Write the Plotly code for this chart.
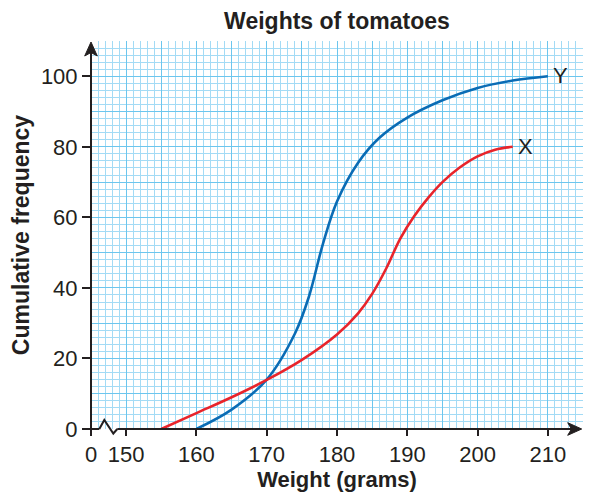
import plotly.graph_objects as go

# ---- data ----
y_weight = [160, 165, 170, 174, 176, 178, 180, 183, 186, 190, 195, 200, 205, 210]
y_cumfreq = [0, 5.5, 14, 27, 37.5, 52.5, 64.5, 75.5, 82.5, 88.3, 93.2, 96.7, 98.8, 100]

x_weight = [155, 160, 165, 170, 175, 180, 183, 185, 187, 189, 191, 193, 195, 197.5, 200, 202.5, 205]
x_cumfreq = [0, 4.5, 9, 13.9, 19.6, 26.8, 32.8, 38.3, 45.5, 54, 60.4, 65.6, 70, 74.2, 77.3, 79.2, 80]

x_tickvals = [145, 150, 160, 170, 180, 190, 200, 210]
x_ticktext = ["0", "150", "160", "170", "180", "190", "200", "210"]
y_tickvals = [0, 20, 40, 60, 80, 100]

X_RANGE = [145, 215]
Y_RANGE = [0, 110]

TXT = "#231f20"
FONT = "Liberation Sans, Arial, sans-serif"
BLUE = "#0a6cb5"
RED = "#e8242b"
MAJOR = "#6cc6ee"
MINOR = "#a3dbf5"
K = "#231f20"

# the page body adds an 8px offset; figure is sized so the plot lands where the reference has it
OFF = 8
W, H = 591 - OFF, 493 - OFF
ML, MR, MT, MB = 91 - OFF, 8, 41 - OFF, 64
PW, PH = W - ML - MR, H - MT - MB


def px(dx):  # pixel length -> paper fraction (x)
    return dx / PW


def py(dy):  # pixel length -> paper fraction (y)
    return dy / PH


fig = go.Figure()

# dummy trace on base (grid) axes
fig.add_trace(go.Scatter(x=[X_RANGE[0]], y=[Y_RANGE[0]], mode="markers", marker=dict(opacity=0),
                         showlegend=False, hoverinfo="skip"))

fig.add_trace(go.Scatter(x=y_weight, y=y_cumfreq, mode="lines", xaxis="x2", yaxis="y2",
                         line=dict(color=BLUE, width=2.6, shape="spline", smoothing=1.0),
                         showlegend=False, cliponaxis=False))
fig.add_trace(go.Scatter(x=x_weight, y=x_cumfreq, mode="lines", xaxis="x2", yaxis="y2",
                         line=dict(color=RED, width=2.6, shape="spline", smoothing=1.0),
                         showlegend=False, cliponaxis=False))

# axis lines, arrows and the axis-break zigzag (paper coordinates)
zx0, zx1, zx2, zx3 = px(8.3), px(13.3), px(22.3), px(26.3)
shapes = [
    dict(type="line", xref="paper", yref="paper", x0=0, y0=py(-1), x1=0, y1=1 - py(10),
         line=dict(color=K, width=2)),
    dict(type="path", xref="paper", yref="paper",
         path=f"M 0,{1 - py(1):.5f} L {px(6.3):.5f},{1 - py(15):.5f} L 0,{1 - py(11.5):.5f} "
              f"L {-px(6.3):.5f},{1 - py(15):.5f} Z",
         fillcolor=K, line=dict(color=K, width=1)),
    dict(type="line", xref="paper", yref="paper", x0=-px(8), y0=0, x1=zx0, y1=0,
         line=dict(color=K, width=2)),
    dict(type="path", xref="paper", yref="paper",
         path=f"M {zx0:.5f},0 L {zx1:.5f},{py(9):.5f} L {zx2:.5f},{-py(4.5):.5f} L {zx3:.5f},0",
         line=dict(color=K, width=2)),
    dict(type="line", xref="paper", yref="paper", x0=zx3, y0=0, x1=1 - px(10), y1=0,
         line=dict(color=K, width=2)),
    dict(type="path", xref="paper", yref="paper",
         path=f"M {1 - px(1.3):.5f},0 L {1 - px(15.3):.5f},{py(6.3):.5f} L {1 - px(11.5):.5f},0 "
              f"L {1 - px(15.3):.5f},{-py(6.3):.5f} Z",
         fillcolor=K, line=dict(color=K, width=1)),
]

annotations = [
    dict(text="Y", x=211.8, y=100.3, xref="x2", yref="y2", showarrow=False,
         font=dict(family=FONT, size=22, color=TXT)),
    dict(text="X", x=206.8, y=80, xref="x2", yref="y2", showarrow=False,
         font=dict(family=FONT, size=22, color=TXT)),
]

fig.update_layout(
    width=W, height=H,
    margin=dict(l=ML, r=MR, t=MT, b=MB, autoexpand=False),
    paper_bgcolor="white", plot_bgcolor="white",
    font=dict(family=FONT, color=TXT),
    title=dict(text="<b>Weights of tomatoes</b>", x=0.5, xref="paper", xanchor="center",
               y=1 - (21 - OFF) / H, yanchor="middle", font=dict(family=FONT, size=23, color=TXT)),
    xaxis=dict(range=X_RANGE, tick0=145, dtick=5, showgrid=True, gridcolor=MAJOR, gridwidth=1.4,
               minor=dict(tick0=145, dtick=1, showgrid=True, gridcolor=MINOR, gridwidth=1.1),
               showticklabels=False, ticks="", zeroline=False, showline=False, fixedrange=True,
               automargin=False),
    yaxis=dict(range=Y_RANGE, tick0=0, dtick=10, showgrid=True, gridcolor=MAJOR, gridwidth=1.4,
               minor=dict(tick0=0, dtick=2, showgrid=True, gridcolor=MINOR, gridwidth=1.1),
               showticklabels=False, ticks="", zeroline=False, showline=False, fixedrange=True,
               automargin=False),
    xaxis2=dict(overlaying="x", anchor="y2", side="bottom", range=X_RANGE,
                tickmode="array", tickvals=x_tickvals, ticktext=x_ticktext,
                ticks="outside", ticklen=6, tickwidth=1.5, tickcolor=K,
                tickfont=dict(family=FONT, size=22, color=TXT),
                showgrid=False, zeroline=False, showline=False, automargin=False,
                title=dict(text="<b>Weight (grams)</b>", font=dict(family=FONT, size=22, color=TXT),
                           standoff=2)),
    yaxis2=dict(overlaying="y", anchor="x2", side="left", range=Y_RANGE,
                tickmode="array", tickvals=y_tickvals,
                ticks="outside", ticklen=8, tickwidth=1.5, tickcolor=K,
                tickfont=dict(family=FONT, size=22, color=TXT),
                showgrid=False, zeroline=False, showline=False, automargin=False,
                title=dict(text="<b>Cumulative frequency</b>", font=dict(family=FONT, size=23, color=TXT),
                           standoff=6)),
    shapes=shapes,
    annotations=annotations,
)

fig.write_html("out.html")
